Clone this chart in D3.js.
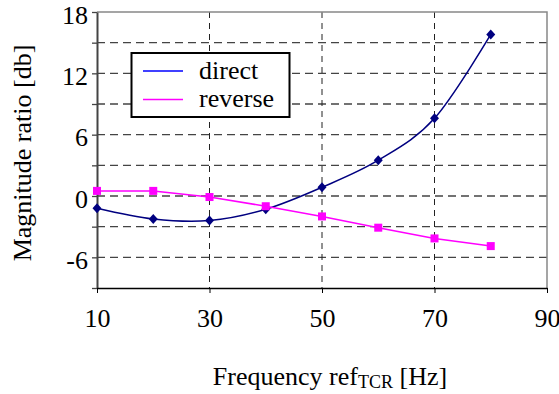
<!DOCTYPE html>
<html>
<head>
<meta charset="utf-8">
<script src="https://cdn.jsdelivr.net/npm/d3@7"></script>
<style>
  body { margin: 0; background: #fff; }
  svg { display: block; }
  text { font-family: "Liberation Serif", "Times New Roman", serif; fill: #000; }
  .tick text { font-size: 26px; }
</style>
</head>
<body>
<svg width="559" height="394"></svg>
<script>
// values
var freq = [10, 20, 30, 40, 50, 60, 70, 80];
var direct = [-1.2, -2.25, -2.4, -1.3, 0.85, 3.5, 7.6, 15.8];
var reverse = [0.5, 0.5, -0.1, -1.0, -2.0, -3.1, -4.15, -4.9];
var xTicks = [10, 30, 50, 70, 90];
var yTicks = [-9, -6, -3, 0, 3, 6, 9, 12, 15, 18];
var seriesNames = ['direct', 'reverse'];

var serif = '"Liberation Serif", "Times New Roman", serif';
var svg = d3.select('svg');

var x = d3.scaleLinear().domain([10, 90]).range([97, 547]);
var y = d3.scaleLinear().domain([-9, 18]).range([288, 12]);

// horizontal dashed gridlines
svg.append('g').selectAll('line')
  .data(yTicks.filter(function(d) { return d > -9 && d < 18; }))
  .enter().append('line')
  .attr('x1', x(10)).attr('x2', x(90))
  .attr('y1', function(d) { return y(d); })
  .attr('y2', function(d) { return y(d); })
  .attr('stroke', '#444').attr('stroke-width', 1.3)
  .attr('stroke-dasharray', '8,5');

// vertical dashed gridlines
svg.append('g').selectAll('line')
  .data([30, 50, 70])
  .enter().append('line')
  .attr('x1', function(d) { return x(d); })
  .attr('x2', function(d) { return x(d); })
  .attr('y1', y(18)).attr('y2', y(-9))
  .attr('stroke', '#222').attr('stroke-width', 1)
  .attr('stroke-dasharray', '6,5');

// top and right border
svg.append('path')
  .attr('d', 'M' + x(10) + ',' + y(18) + 'H' + x(90) + 'V' + y(-9))
  .attr('fill', 'none').attr('stroke', '#888').attr('stroke-width', 1.5);

// axes
var yAxis = svg.append('g').attr('class', 'y axis')
  .attr('transform', 'translate(' + x(10) + ',0)')
  .call(d3.axisLeft(y).tickValues(yTicks).tickSize(5).tickSizeOuter(0)
    .tickFormat(function(d) { return (d % 6 === 0 && d > -9) ? d : ''; }));
yAxis.attr('font-family', null).attr('font-size', null);
yAxis.select('.domain').attr('stroke', '#444').attr('stroke-width', 2);
yAxis.selectAll('.tick line').attr('stroke', '#444').attr('stroke-width', 1.3);
yAxis.selectAll('.tick text').attr('x', -9).attr('dy', '0.43em');

var xAxis = svg.append('g').attr('class', 'x axis')
  .attr('transform', 'translate(0,' + y(-9) + ')')
  .call(d3.axisBottom(x).tickValues(xTicks).tickSize(5).tickSizeOuter(0).tickPadding(16));
xAxis.attr('font-family', null).attr('font-size', null);
xAxis.select('.domain').attr('stroke', '#000').attr('stroke-width', 1.5);
xAxis.selectAll('.tick line').attr('stroke', '#000').attr('stroke-width', 1);

// axis titles
svg.append('text')
  .attr('transform', 'translate(31,153) rotate(-90)')
  .attr('text-anchor', 'middle')
  .style('font-family', serif)
  .style('font-size', '26px')
  .text('Magnitude ratio [db]');

var xt = svg.append('text')
  .attr('x', 330).attr('y', 385)
  .attr('text-anchor', 'middle')
  .style('font-family', serif)
  .style('font-size', '26px');
xt.append('tspan').text('Frequency ref');
xt.append('tspan').attr('dy', 3).style('font-size', '18px').text('TCR');
xt.append('tspan').attr('dy', -3).text(' [Hz]');

// lines
var directLine = d3.line()
  .x(function(d, i) { return x(freq[i]); })
  .y(function(d) { return y(d); })
  .curve(d3.curveCardinal.tension(0));
var reverseLine = d3.line()
  .x(function(d, i) { return x(freq[i]); })
  .y(function(d) { return y(d); });

svg.append('path').datum(direct)
  .attr('d', directLine)
  .attr('fill', 'none').attr('stroke', '#000080').attr('stroke-width', 1.5);
svg.append('path').datum(reverse)
  .attr('d', reverseLine)
  .attr('fill', 'none').attr('stroke', '#ff00ff').attr('stroke-width', 1.5);

// markers
svg.append('g').selectAll('path')
  .data(direct).enter().append('path')
  .attr('d', 'M0,-5L4.5,0L0,5L-4.5,0Z')
  .attr('fill', '#000080')
  .attr('transform', function(d, i) { return 'translate(' + x(freq[i]) + ',' + y(d) + ')'; });

svg.append('g').selectAll('rect')
  .data(reverse).enter().append('rect')
  .attr('x', function(d, i) { return x(freq[i]) - 4; })
  .attr('y', function(d) { return y(d) - 4; })
  .attr('width', 8).attr('height', 8)
  .attr('fill', '#ff00ff');

// legend
var legend = svg.append('g');
legend.append('rect')
  .attr('x', 131.5).attr('y', 53)
  .attr('width', 158).attr('height', 64)
  .attr('fill', '#fff').attr('stroke', '#000').attr('stroke-width', 2);
var legendColors = ['#0000ff', '#ff00ff'];
seriesNames.forEach(function(name, i) {
  var ly = 71 + i * 28.5;
  legend.append('line')
    .attr('x1', 143).attr('x2', 183)
    .attr('y1', ly).attr('y2', ly)
    .attr('stroke', legendColors[i]).attr('stroke-width', 1.5);
  legend.append('text')
    .attr('x', 199).attr('y', ly + 7.5)
    .style('font-family', serif)
    .style('font-size', '26px')
    .text(name);
});
</script>
</body>
</html>
